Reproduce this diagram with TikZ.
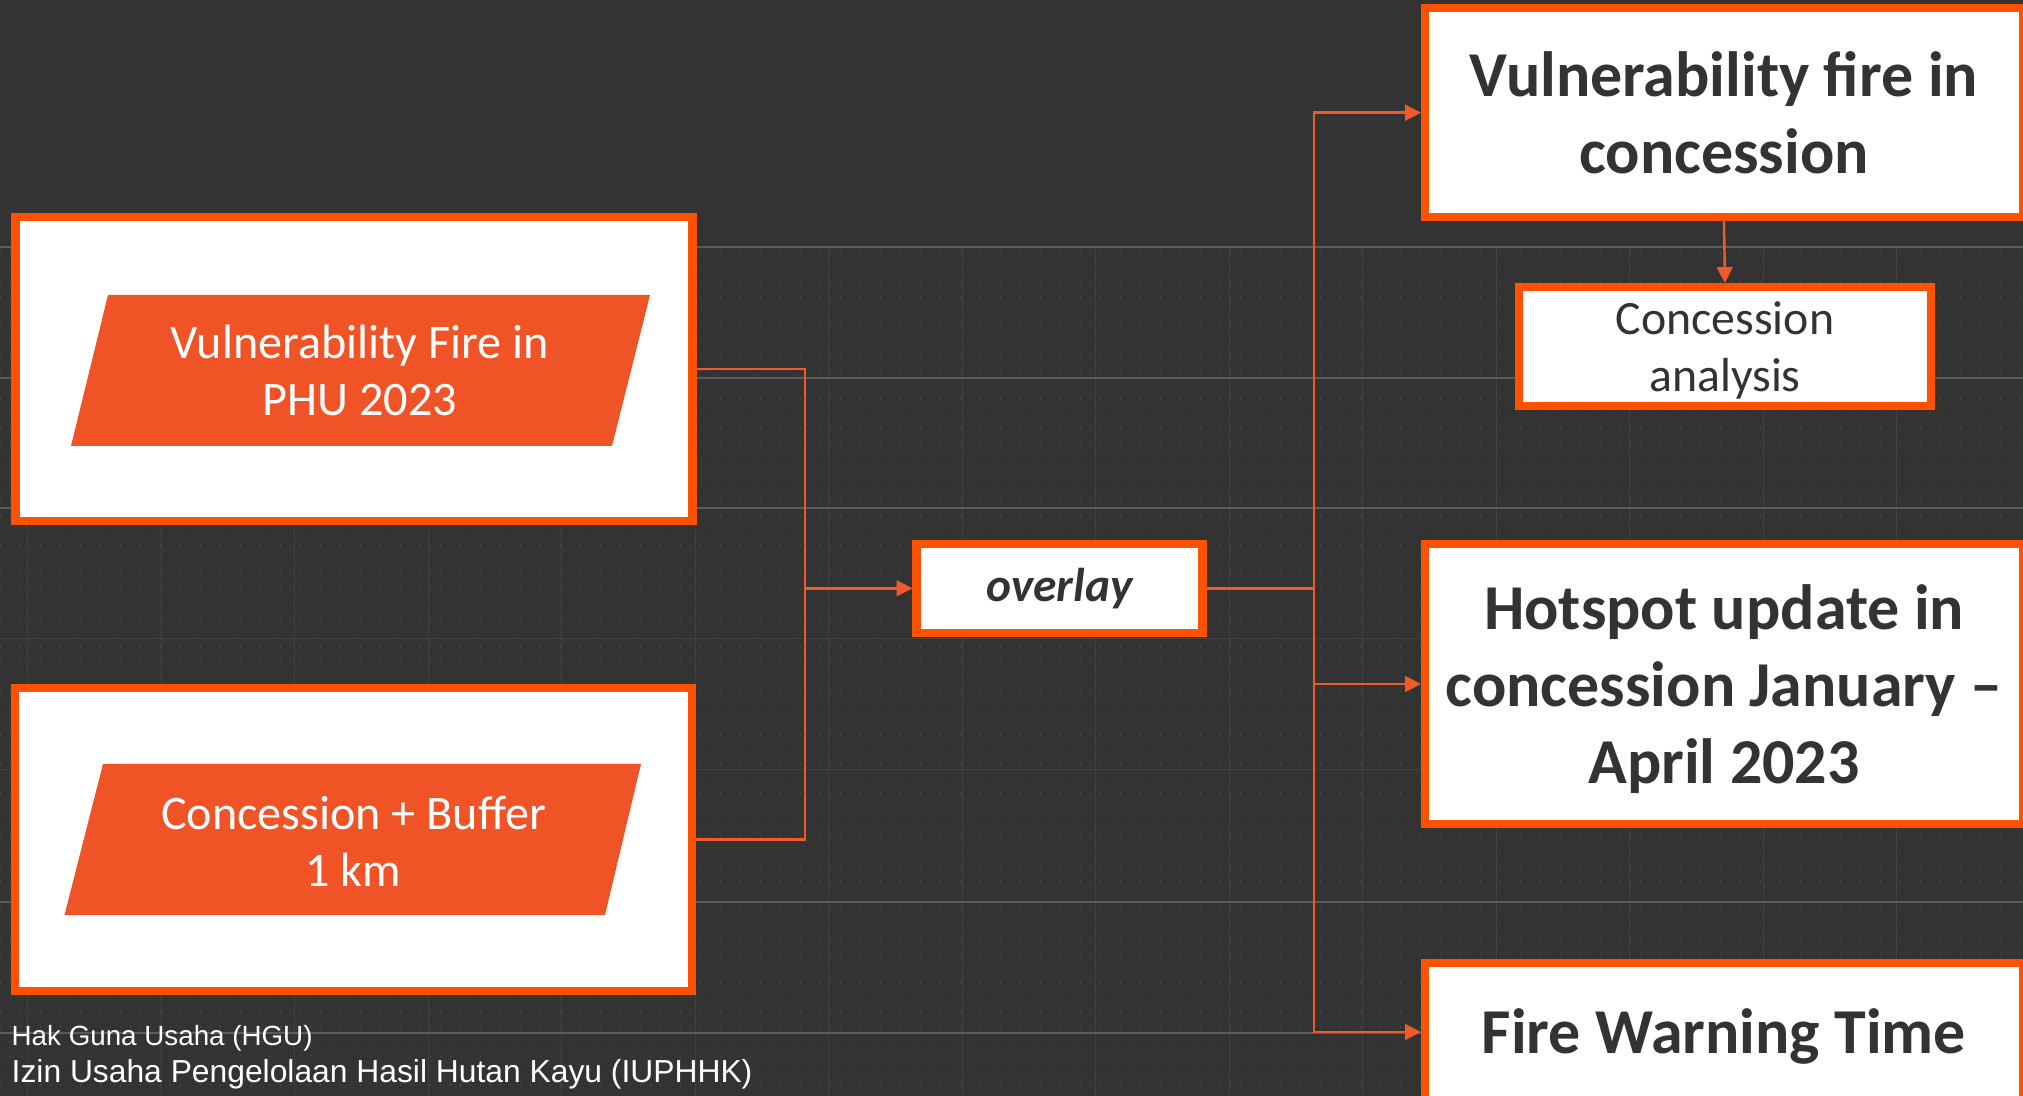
\documentclass[tikz,border=0pt]{standalone}
\usepackage{fontspec}
\setmainfont{Carlito}
\newfontfamily\notefont{Liberation Sans}
\usetikzlibrary{arrows.meta}
\definecolor{bgdark}{HTML}{333333}
\definecolor{fireorange}{HTML}{FF5200}
\definecolor{tagorange}{HTML}{F05426}
\definecolor{linkorange}{HTML}{F05A28}
\definecolor{inkdark}{HTML}{333333}
\definecolor{gridmajor}{HTML}{5C5C5C}
\definecolor{gridminor}{HTML}{414141}
\definecolor{griddot}{HTML}{4A4A4A}
\tikzset{
  plate/.style={draw=fireorange, line width=2.3pt, fill=white, inner sep=0pt},
  result/.style={plate, text=inkdark, align=center, font=\bfseries\fontsize{18.2}{21.8}\selectfont},
  resulttext/.style={text=inkdark, align=center, inner sep=0pt, font=\bfseries\fontsize{18.2}{21.8}\selectfont},
  tagtext/.style={text=white, align=center, font=\fontsize{13.7}{16.2}\selectfont},
  link/.style={linkorange, line width=0.7pt},
  arrow/.style={link, -{Triangle[length=4.5pt,width=4.5pt]}},
  note/.style={text=white, anchor=base west, inner sep=0pt},
}

\begin{document}
\begin{tikzpicture}[x=0.1mm, y=-0.1mm]
  \useasboundingbox (0,0) rectangle (2023,1096);
  \clip (0,0) rectangle (2023,1096);
  \fill[bgdark] (0,0) rectangle (2023,1096);
  % background grid
  \foreach \k in {0,...,57}
    \draw[griddot, line width=0.15mm, dash pattern=on 0.15mm off 0.85mm] (0,{253+14.6*\k}) -- (2023,{253+14.6*\k});
  \foreach \k in {0,...,14}
    \draw[gridminor, line width=0.1mm] ({27.5+133.5*\k},247) -- ({27.5+133.5*\k},1096);
  \foreach \y in {639,770}
    \draw[gridminor, line width=0.1mm] (0,\y) -- (2023,\y);
  \foreach \y in {247,378,508,902,1033}
    \draw[gridmajor, line width=0.15mm] (0,\y) -- (2023,\y);

  % inputs
  \node[plate, minimum width=67.7mm, minimum height=30.4mm] (phubox) at (354,369) {};
  \fill[tagorange] (71,446) -- (108,295) -- (650,295) -- (612,446) -- cycle;
  \node[tagtext] (phulabel) at (360,370) {Vulnerability Fire in\\PHU 2023};

  \node[plate, minimum width=67.7mm, minimum height=30.3mm] (bufbox) at (353.5,839.5) {};
  \fill[tagorange] (64.5,915) -- (103,764) -- (641,764) -- (605,915) -- cycle;
  \node[tagtext] (buflabel) at (353.5,841) {Concession + Buffer\\1 km};

  \node[plate, minimum width=28.6mm, minimum height=8.9mm, text=inkdark,
        font=\bfseries\itshape\fontsize{13.5}{16}\selectfont] (overlay) at (1059.5,588.3) {overlay};

  % outputs
  \node[result, minimum width=59.8mm, minimum height=20.9mm] (vfc) at (1724,112.7) {Vulnerability fire in\\concession};
  \node[plate, minimum width=41.2mm, minimum height=11.9mm] (analysis) at (1725,346.5) {};
  \node[text=inkdark, align=center, inner sep=0pt, font=\fontsize{13.6}{16.2}\selectfont]
    (analysistext) at (1725,350.5) {Concession\\analysis};
  \node[plate, minimum width=59.8mm, minimum height=28mm] (hotspot) at (1724,684) {};
  \node[resulttext] (hotspottext) at (1724,689) {Hotspot update in\\concession January --\\April 2023};
  \node[plate, minimum width=59.8mm, minimum height=13.8mm] (warning) at (1724,1032) {};
  \node[resulttext] (warningtext) at (1724,1036) {Fire Warning Time};

  % connectors
  \draw[link] (phubox.east) -- ++(108.5,0) coordinate (merge) |- (bufbox.east);
  \draw[arrow] (merge |- overlay.west) -- (overlay.west);
  \draw[link] (overlay.east) -- ++(107.5,0) coordinate (split);
  \draw[arrow] (split) |- (vfc.west);
  \draw[arrow] (split) |- (hotspot.west);
  \draw[arrow] (split) |- (warning.west);
  \draw[arrow] (vfc.south) -- (analysis.north);

  \node[note, font=\notefont\fontsize{7.9}{9}\selectfont] (hgu) at (11,1045) {Hak Guna Usaha (HGU)};
  \node[note, font=\notefont\fontsize{9.05}{10}\selectfont] (iuphhk) at (11,1082) {Izin Usaha Pengelolaan Hasil Hutan Kayu (IUPHHK)};
\end{tikzpicture}
\end{document}
